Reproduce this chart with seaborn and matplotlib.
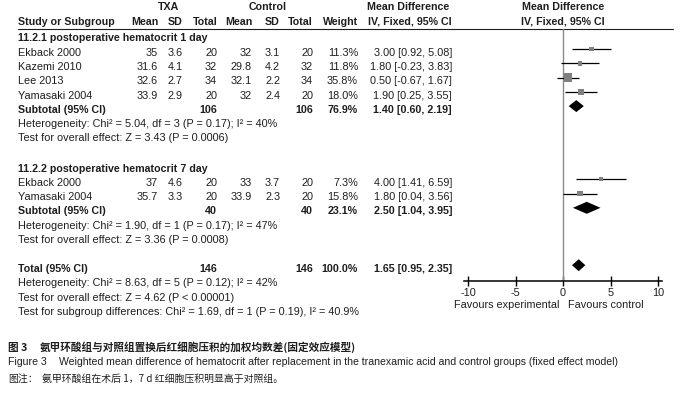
import matplotlib
matplotlib.use("Agg")
import matplotlib.pyplot as plt
import numpy as np
import pandas as pd
import seaborn as sns

# ---- values ----
groups = ["11.2.1 postoperative hematocrit 1 day", "11.2.2 postoperative hematocrit 7 day"]
study = ["Ekback 2000", "Kazemi 2010", "Lee 2013", "Yamasaki 2004", "Ekback 2000", "Yamasaki 2004"]
group_idx = [0, 0, 0, 0, 1, 1]
txa_mean = [35, 31.6, 32.6, 33.9, 37, 35.7]
txa_sd = [3.6, 4.1, 2.7, 2.9, 4.6, 3.3]
txa_n = [20, 32, 34, 20, 20, 20]
ctl_mean = [32, 29.8, 32.1, 32, 33, 33.9]
ctl_sd = [3.1, 4.2, 2.2, 2.4, 3.7, 2.3]
ctl_n = [20, 32, 34, 20, 20, 20]
weight = [11.3, 11.8, 35.8, 18.0, 7.3, 15.8]
md = [3.00, 1.80, 0.50, 1.90, 4.00, 1.80]
md_lo = [0.92, -0.23, -0.67, 0.25, 1.41, 0.04]
md_hi = [5.08, 3.83, 1.67, 3.55, 6.59, 3.56]

sub_labels = ["Subtotal (95% CI)", "Subtotal (95% CI)", "Total (95% CI)"]
sub_txa_n = [106, 40, 146]
sub_ctl_n = [106, 40, 146]
sub_weight = [76.9, 23.1, 100.0]
sub_md = [1.40, 2.50, 1.65]
sub_lo = [0.60, 1.04, 0.95]
sub_hi = [2.19, 3.95, 2.35]

stats_lines = [
    ["Heterogeneity: Chi² = 5.04, df = 3 (P = 0.17); I² = 40%",
     "Test for overall effect: Z = 3.43 (P = 0.0006)"],
    ["Heterogeneity: Chi² = 1.90, df = 1 (P = 0.17); I² = 47%",
     "Test for overall effect: Z = 3.36 (P = 0.0008)"],
    ["Heterogeneity: Chi² = 8.63, df = 5 (P = 0.12); I² = 42%",
     "Test for overall effect: Z = 4.62 (P < 0.00001)",
     "Test for subgroup differences: Chi² = 1.69, df = 1 (P = 0.19), I² = 40.9%"],
]
xticks = [-10, -5, 0, 5, 10]
favours = ["Favours experimental", "Favours control"]
caption_cn = ["图 3", "氨甲环酸组与对照组置换后红细胞压积的加权均数差(固定效应模型)"]
caption_en = ["Figure 3", "Weighted mean difference of hematocrit after replacement in the tranexamic acid and control groups (fixed effect model)"]
caption_note = ["图注：", "氨甲环酸组在术后 1，7 d 红细胞压积明显高于对照组。"]

# ---- layout (pixel rows of a 689x398 canvas) ----
W, H = 689, 398
study_rows = [51.7, 66, 80.3, 94.6, 182, 196.3]
group_rows = [37, 168]
sub_rows = [108.9, 210.6, 268]
stats_rows = [[123.2, 137.5], [225, 239.3], [282.5, 296.8, 311]]
mark_shift = -2.8
fs = 7.85
fsb = 7.7
ink = "#1e1e1e"
cjk = ["Noto Sans CJK SC", "Liberation Sans"]

sns.set_theme(style="white")
plt.rcParams["font.family"] = ["Liberation Sans", "DejaVu Sans"]

fig = plt.figure(figsize=(W / 100, H / 100), dpi=100)
tab = fig.add_axes([0, 0, 1, 1])
tab.set_xlim(0, W)
tab.set_ylim(H, 0)
tab.axis("off")


def txt(x, y, s, ha="left", bold=False, size=None, **kw):
    # y is the middle of the capital letters
    if size is None:
        size = fsb if bold else fs
    tab.text(x, y + size * 0.497, s, ha=ha, va="baseline", fontsize=size,
             fontweight="bold" if bold else "normal", color=ink, **kw)


# header
txt(168.5, 6.5, "TXA", ha="center", bold=True)
txt(267.5, 6.5, "Control", ha="center", bold=True)
txt(408, 6.5, "Mean Difference", ha="center", bold=True)
txt(563, 6.5, "Mean Difference", ha="center", bold=True)
txt(18, 21, "Study or Subgroup", bold=True)
txt(158, 21, "Mean", ha="right", bold=True)
txt(168, 21, "SD", bold=True)
txt(218, 21, "Total", ha="right", bold=True)
txt(252, 21, "Mean", ha="right", bold=True)
txt(265, 21, "SD", bold=True)
txt(313, 21, "Total", ha="right", bold=True)
txt(358, 21, "Weight", ha="right", bold=True)
txt(452, 21, "IV, Fixed, 95% CI", ha="right", bold=True)
txt(563, 21, "IV, Fixed, 95% CI", ha="center", bold=True)
tab.plot([18, 673], [28.5, 28.5], color=ink, lw=0.8)

for g, y in zip(groups, group_rows):
    txt(18, y, g, bold=True)

for i, y in enumerate(study_rows):
    txt(18, y, study[i])
    txt(158, y, f"{txa_mean[i]:g}", ha="right")
    txt(168, y, f"{txa_sd[i]:g}")
    txt(217, y, f"{txa_n[i]}", ha="right")
    txt(252, y, f"{ctl_mean[i]:g}", ha="right")
    txt(265, y, f"{ctl_sd[i]:g}")
    txt(313, y, f"{ctl_n[i]}", ha="right")
    txt(358, y, f"{weight[i]:.1f}%", ha="right")
    txt(452, y, f"{md[i]:.2f} [{md_lo[i]:.2f}, {md_hi[i]:.2f}]", ha="right")

for j, y in enumerate(sub_rows):
    txt(18, y, sub_labels[j], bold=True)
    txt(217, y, f"{sub_txa_n[j]}", ha="right", bold=True)
    txt(313, y, f"{sub_ctl_n[j]}", ha="right", bold=True)
    txt(358, y, f"{sub_weight[j]:.1f}%", ha="right", bold=True)
    txt(452, y, f"{sub_md[j]:.2f} [{sub_lo[j]:.2f}, {sub_hi[j]:.2f}]", ha="right", bold=True)

for lines, rows in zip(stats_lines, stats_rows):
    for s, y in zip(lines, rows):
        txt(18, y, s)

txt(560, 304.5, favours[0], ha="right")
txt(568, 304.5, favours[1])

# captions
txt(8, 347, caption_cn[0], size=7.65, bold=True, family=cjk)
txt(40, 347, caption_cn[1], size=7.65, bold=True, family=cjk)
txt(8, 361.5, caption_en[0], size=7.6)
txt(59, 361.5, caption_en[1], size=7.6)
txt(8, 378.5, caption_note[0], size=7.1, family=cjk)
txt(42, 378.5, caption_note[1], size=7.1, family=cjk)

# ---- forest panel ----
px_per_unit = 9.5
x0 = 563 - 10.4 * px_per_unit
x1 = 563 + 10.4 * px_per_unit
top, base = 28.5, 281
fax = fig.add_axes([x0 / W, 1 - base / H, (x1 - x0) / W, (base - top) / H])
fax.set_xlim(-10.4, 10.4)
fax.set_ylim(base, top)
fax.patch.set_alpha(0)
for side in ["top", "left", "right"]:
    fax.spines[side].set_visible(False)
fax.spines["bottom"].set_color("black")
fax.spines["bottom"].set_linewidth(1.1)
fax.set_xticks(xticks)
fax.set_xticklabels([str(t) for t in xticks])
fax.set_yticks([])
fax.tick_params(axis="x", direction="inout", length=7, width=1, labelsize=fs,
                pad=1.5, colors="black", labelcolor=ink, bottom=True)

fax.axvline(0, color="#8a8a8a", lw=1, zorder=1)

df = pd.DataFrame({"study": study, "md": md, "lo": md_lo, "hi": md_hi, "weight": weight,
                   "y": np.array(study_rows) + mark_shift})
fax.hlines(df["y"], df["lo"], df["hi"], color="black", lw=0.9, zorder=2)
sns.scatterplot(data=df, x="md", y="y", size="weight", sizes=(0, 34), size_norm=(0, 35.8),
                marker="s", color="#808080", linewidth=0, legend=False, ax=fax, zorder=3)
fax.set_xlabel("")
fax.set_ylabel("")

half_h = 6
for j, y in enumerate(sub_rows):
    yc = y + mark_shift
    fax.fill([sub_lo[j], sub_md[j], sub_hi[j], sub_md[j]],
             [yc, yc - half_h, yc, yc + half_h], color="black", lw=0, zorder=3)

fig.savefig("out.png", dpi=100)
